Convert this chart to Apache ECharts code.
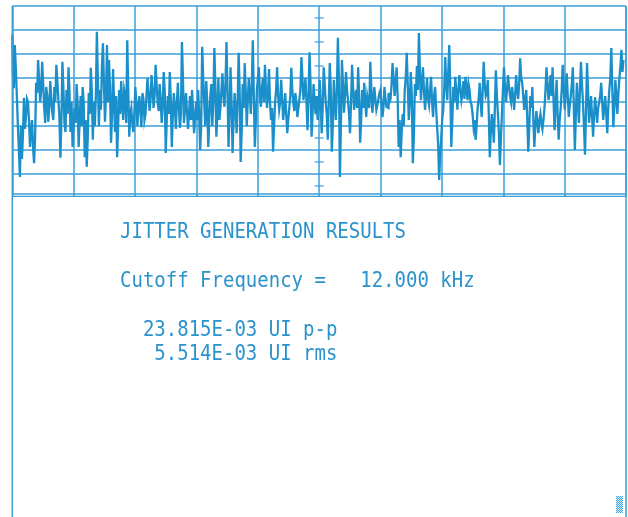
<!DOCTYPE html>
<html>
<head>
<meta charset="utf-8">
<script src="https://cdn.jsdelivr.net/npm/echarts@6/dist/echarts.min.js"></script>
<style>
  html, body { margin: 0; padding: 0; background: #ffffff; }
  #chart { width: 628px; height: 517px; }
</style>
</head>
<body>
<div id="chart"></div>
<script>
// Jitter trace, one value per sample, in mUI (4 mUI per vertical division)
const jitterSegA = [
  11.2, 4.5, 2.3, 9.5, 5.5, 1, -4, -8, -12.5, -4,
  -9.5, -5.5, 0.7, -4.5, -2.5, 0.5, 0, -3, -7.5, -5,
  -3, -7.5, -10.2, -6, 3.2, 1.5, 7, 3.5, 0, 2,
  6.7, 3, -1, -3.5, 2.5, 1, -3.3, -1, 3.5, 0.5,
  -1.8, -3, 2.5, 0, 6.2, 3.5, 0.5, -2.5, -9.3, -3,
  6.7, 2, -3.5, -5, 2, -2, 5.8, 1.5, -5, 0,
  -7.5, -4, -1, -3.5, 3, 0, -7.5, -3, 1, -4,
  2.5, 0, -9.2, -3, -10.8, -6, 1.5, -2, 5.7, 2,
  -6.3, 0, -4, 1, 11.7, 4, -4, 2, -1.3, 6,
  9.8, 3, -3.3, 1, 9.5, 0, 7, 2, -6.8, -2,
  5.5, 0, -5, 1, -9.2, -4, 2, -2, 3.5, 0,
  -3, 2, 1, -3.5, 10.3, 2, -5.8, -2, -1, -3.5,
  -5, -2, 2.5, 0, -4, -1, 1, -1.5, -4.2, 1.5,
  0.5, -3, -2, 1, 4, 1.5, -1.5, 0.5, 4.5, 2,
  -1, 1, 6.2, 3, 0, -1.5, 3, 0.5, -3.5, -1,
  5, 2, -8.5, -3, 1, -2, 5, 0.5, -7.5, -2,
  1.5, -1, -4.5, 0, 3.2, -1, -4.3, -2, 10, 4,
  -3.5, -1, 1.5, -1.5, -4.5, -2, 1, -3, 2, -1.5,
  -5.2, -2.5, 0, -3, 2, -2, -8, -4, 9.2, 4,
  0, -4, 3.5, 0, -7.5, -3, 1, 3, -4, 0,
  9, 3, -5.8, -2, 4, -3, -1, 2
];
const jitterSegB = [
  4.8, 1, -0.8, 3, 10, 2, -7.5, -2, 5.8, 0,
  -8.5, -3, 1.5, -1, -5.2, 0, 8.2, 2, -10, -5,
  3, -1, 6.5, 2, -4, 0, 4, 1.5, -2, 3,
  10.3, 1, -7.5, -3, 2, 4, 5.8, 1, -0.8, 2.5,
  4, 0, 6.2, 2, -1, 1.5, 5.5, 0, -3, -1,
  -8.3, -4, 0, 2, 5.8, 1, -1.3, 0, 3.7, 0.5,
  -3, -1, 1.5, -2, -5.2, -3, -1, 1, 5.7, 2,
  -0.2, -1.5, 1.5, 0, -2.5, -1, 0.5, 2, 7.5, 4,
  0.3, 2, 4, 0, -4.7, 1, 8.3, 3, -5.8, -2,
  3, 0, -2, 1, -3, -1, 3.7, 0, -5.2, -1,
  5.8, 3, 0, -2, -6.3, 0, 6.5, 2, -8.3, -4,
  3.7, 0, -3, 2, 10.7, 4, -12.5, -4, 7, 3,
  -1.8, 1, 5, 2, 0.3, -2, -5.2, 0, 6.2, 2.5,
  -1.3, 0.5, 2, -1, 5.8, 1, -6.8, -3, 2, -1,
  3.2, 0, -2.5, 1, 0, -1, 6.7, 2.5, -1.8, 0,
  2.5, 0.5, -1.3, -0.5, 0.5, 1.5, 2, 0, -2.5, -1,
  2.5, 0.5, -0.8, -1, 1.5, 0, 0.5, 3, 6.5, 4,
  1, 3, 5.8, 1, -7.5, -3, -9.2, -5, -2, -4,
  2, 4, 8.2, 3, -3, 0, 5, 1, -10.2, -6,
  3, 1, 6, 2, 11.5, 5, 0.3, 3, 5.8, 2,
  -1.3, 1, 4, 0.5, -0.5, 2
];
const jitterSegC = [
  4.2, 0, -2.5, 1, 2.5, -1, -4.2, -7, -13, -9,
  -6, -3, -1.3, 2, 7.5, 3, 0.3, 5, 9.5, 2,
  -7.5, -3, 2.5, 0, 4.2, 1.5, -1.3, 2, 4.5, 2,
  0.3, 1.5, 3.5, 0.5, 4.2, 2.5, 0.3, 3, 2, 0,
  -0.5, -2, -4.2, -3, -6.3, -4, -1, 0.5, 3.2, 0,
  -2.5, 2, 6.7, 3, 1, 1.5, 3.7, -2, -9.2, -5,
  -2, -4, -6.8, -1, 5.3, 1, -2, -5, -10.5, -6,
  -2, 2, 5.8, 2.5, 0, 2, 4.5, 2.5, 1, 0,
  2.5, 1, -1.3, 1, 4.5, 2, 0.5, 3, 7.3, 4,
  3.2, 1, -1.3, 0.5, 2, -3, -8.3, -4, 1, -1,
  2.5, -3, -7.5, -4, -1.5, -3.5, -5.2, -3, -2, -3.5,
  -4.5, -3, -1, 2, 5.8, 3, 0.3, 2, 4.5, 1,
  5.8, 0, -4.7, 0, 3.7, -2, -6.3, -3, -1, 2,
  6.2, 2.5, -1.3, 1.5, 4.8, 1, -2.5, -0.5, 1, 3,
  5.8, -1, -8, -2, 3.2, 0, -3.5, 2, 6.7, 3,
  0, -4, -8.8, -2, 6.5, 2, -3.5, -1.5, 1, -2.5,
  -5.8, -2, 0.8, -1.5, -3.5, -1, 0, 1, 3.2, 0,
  -3, -1, 1, -2, -5.2, -1, 2, 4, 9, 2,
  -4.2, -1, 3.7, 1, -2, 1.5, 4, 6, 8.7, 5,
  7
];

// Half-division marks on the centre graticule line (mUI)
const centreTicks = [-14, -10, -6, -2, 2, 6, 10, 14];

// Result read-out lines
const resultTitle = 'JITTER GENERATION RESULTS';
const cutoffLine = 'Cutoff Frequency =   12.000 kHz';
const ppLine = '23.815E-03 UI p-p';
const rmsLine = '5.514E-03 UI rms';

const trace = jitterSegA.concat(jitterSegB, jitterSegC);
const xMax = 606;             // sample span of the 10-division screen
const xDiv = xMax / 10;
const yDiv = 4;               // mUI per division

const gridColor = '#3a9fd8';
const traceColor = '#1a8fc9';
const textColor = '#2b93cc';

// light checker block used as the cursor cell
const cell = document.createElement('canvas');
cell.width = 2; cell.height = 2;
const cctx = cell.getContext('2d');
cctx.fillStyle = '#d2eaf8'; cctx.fillRect(0, 0, 2, 2);
cctx.fillStyle = '#4ea9e0'; cctx.fillRect(0, 0, 1, 1); cctx.fillRect(1, 1, 1, 1);

const chart = echarts.init(document.getElementById('chart'), null, { renderer: 'canvas' });

const FONT = '19px "DejaVu Sans Mono", "Liberation Mono", monospace';
const CW = 11.44;   // glyph advance at this size
const TX = 120;
function textLine(str, col, yMid) {
  return {
    type: 'text', z: 70,
    x: TX + col * CW, y: yMid,
    scaleY: 1.08,
    style: { text: str, font: FONT, fill: textColor, align: 'left', verticalAlign: 'middle' }
  };
}

chart.setOption({
  animation: false,
  backgroundColor: '#ffffff',
  grid: { left: 12.3, right: 2, top: 6, bottom: 319, containLabel: false },
  xAxis: {
    type: 'value', min: 0, max: xMax, interval: xDiv,
    axisLine: { show: false }, axisTick: { show: false }, axisLabel: { show: false },
    splitLine: { show: true, lineStyle: { color: gridColor, width: 1.5 } }
  },
  yAxis: {
    type: 'value', min: -4 * yDiv, max: 4 * yDiv, interval: yDiv,
    axisLine: { show: false }, axisTick: { show: false }, axisLabel: { show: false },
    splitLine: { show: true, lineStyle: { color: gridColor, width: 1.5 } }
  },
  series: [
    {
      type: 'line',
      data: trace.map((v, i) => [i, v]),
      step: 'middle',
      symbol: 'none',
      sampling: null,
      lineStyle: { color: traceColor, width: 2.3, join: 'miter' },
      z: 3
    },
    {
      type: 'scatter',
      data: centreTicks.map(v => [xMax / 2, v]),
      symbol: 'rect',
      symbolSize: [9, 1.5],
      itemStyle: { color: gridColor },
      z: 4,
      silent: true
    }
  ],
  graphic: [
    // separator band between the screen and the read-out panel
    { type: 'rect', z: 50, shape: { x: 0, y: 196.9, width: 628, height: 3.6 }, style: { fill: '#ffffff' } },
    { type: 'line', z: 60, shape: { x1: 12.3, y1: 194, x2: 626, y2: 194 }, style: { stroke: gridColor, lineWidth: 1.5 } },
    { type: 'line', z: 60, shape: { x1: 12.3, y1: 196.3, x2: 626, y2: 196.3 }, style: { stroke: gridColor, lineWidth: 1.3 } },
    // panel side borders
    { type: 'line', z: 60, shape: { x1: 12.3, y1: 6, x2: 12.3, y2: 517 }, style: { stroke: gridColor, lineWidth: 1.5 } },
    { type: 'line', z: 60, shape: { x1: 626, y1: 6, x2: 626, y2: 517 }, style: { stroke: gridColor, lineWidth: 1.5 } },
    // read-out text
    textLine(resultTitle, 0, 232.2),
    textLine(cutoffLine, 0, 281.2),
    textLine(ppLine, 2, 331),
    textLine(rmsLine, 3, 354.5),
    // cursor cell
    { type: 'rect', z: 60, shape: { x: 616, y: 496, width: 7, height: 17 },
      style: { fill: { image: cell, repeat: 'repeat' } } }
  ]
});
</script>
</body>
</html>
